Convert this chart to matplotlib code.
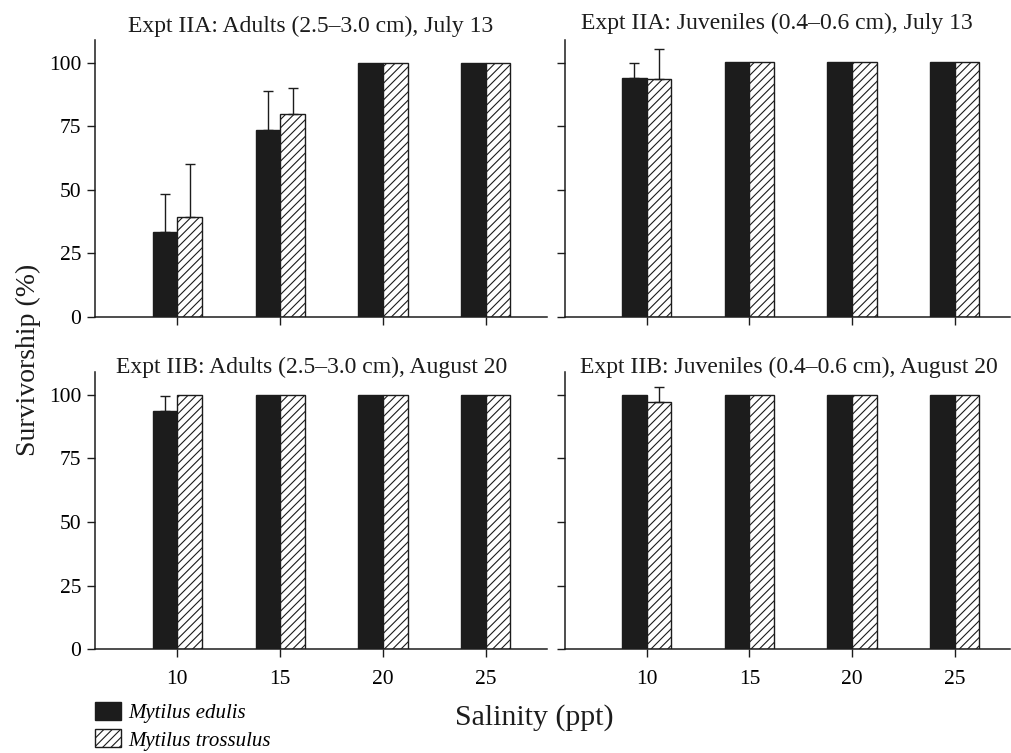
import numpy as np
import matplotlib
matplotlib.use('Agg')
import matplotlib.pyplot as plt
from matplotlib.patches import Patch

plt.rcParams['font.family'] = ['Liberation Serif', 'DejaVu Serif']
plt.rcParams['hatch.linewidth'] = 0.8

salinity = [10, 15, 20, 25]
yticks = [0, 25, 50, 75, 100]

# survivorship (%) and upper error (nan = no bar)
iia_adult_edulis = [33.5, 73.5, 100, 100]
iia_adult_edulis_err = [15, 15.5, np.nan, np.nan]
iia_adult_tross = [39.5, 80, 100, 100]
iia_adult_tross_err = [20.5, 10, np.nan, np.nan]

iia_juv_edulis = [94, 100.5, 100.5, 100.5]
iia_juv_edulis_err = [6, np.nan, np.nan, np.nan]
iia_juv_tross = [93.5, 100.5, 100.5, 100.5]
iia_juv_tross_err = [12, np.nan, np.nan, np.nan]

iib_adult_edulis = [93.5, 100, 100, 100]
iib_adult_edulis_err = [6, np.nan, np.nan, np.nan]
iib_adult_tross = [100, 100, 100, 100]
iib_adult_tross_err = [np.nan, np.nan, np.nan, np.nan]

iib_juv_edulis = [100, 100, 100, 100]
iib_juv_edulis_err = [np.nan, np.nan, np.nan, np.nan]
iib_juv_tross = [97, 100, 100, 100]
iib_juv_tross_err = [6, np.nan, np.nan, np.nan]

titles = ['Expt IIA: Adults (2.5\u20133.0 cm), July 13',
          'Expt IIA: Juveniles (0.4\u20130.6 cm), July 13',
          'Expt IIB: Adults (2.5\u20133.0 cm), August 20',
          'Expt IIB: Juveniles (0.4\u20130.6 cm), August 20']

panels = [
    (iia_adult_edulis, iia_adult_edulis_err, iia_adult_tross, iia_adult_tross_err),
    (iia_juv_edulis, iia_juv_edulis_err, iia_juv_tross, iia_juv_tross_err),
    (iib_adult_edulis, iib_adult_edulis_err, iib_adult_tross, iib_adult_tross_err),
    (iib_juv_edulis, iib_juv_edulis_err, iib_juv_tross, iib_juv_tross_err),
]

positions = [[0.094, 0.579, 0.447, 0.368],
             [0.558, 0.579, 0.44, 0.368],
             [0.094, 0.138, 0.447, 0.368],
             [0.558, 0.138, 0.44, 0.368]]
xlims = [(6, 28), (6, 27.7), (6, 28), (6, 27.7)]
title_x = [0.476, 0.476, 0.478, 0.503]
title_y = [1.01, 1.02, 0.98, 0.98]

ink = '#1c1c1c'
fig = plt.figure(figsize=(10.12, 7.53), dpi=100)
w = 1.2
x = np.array(salinity, dtype=float)

for i, (ed, ed_err, tr, tr_err) in enumerate(panels):
    ax = fig.add_axes(positions[i])
    ax.bar(x - w / 2, ed, width=w, color=ink, edgecolor=ink, linewidth=1)
    ax.bar(x + w / 2, tr, width=w, color='white', edgecolor=ink, linewidth=1, hatch='////')
    for xs, vals, errs in [(x - w / 2, ed, ed_err), (x + w / 2, tr, tr_err)]:
        errs = np.array(errs, dtype=float)
        m = np.isfinite(errs)
        if m.any():
            v = np.array(vals)[m]
            ax.errorbar(xs[m], v, yerr=[np.zeros(m.sum()), errs[m]], fmt='none',
                        ecolor=ink, elinewidth=1, capsize=3.5, capthick=1)
    ax.set_xlim(*xlims[i])
    ax.set_ylim(0, 109)
    ax.set_xticks(salinity)
    ax.set_yticks(yticks)
    for s in ['top', 'right']:
        ax.spines[s].set_visible(False)
    for s in ['left', 'bottom']:
        ax.spines[s].set_linewidth(1.1)
        ax.spines[s].set_color(ink)
    ax.tick_params(axis='x', direction='out', length=6, width=1, pad=9, labelsize=15.5, color=ink)
    ax.tick_params(axis='y', direction='out', length=6, width=1, pad=4, labelsize=15.5, color=ink)
    if i < 2:
        ax.set_xticklabels([])
    if i % 2 == 1:
        ax.set_yticklabels([])
    ax.text(title_x[i], title_y[i], titles[i], transform=ax.transAxes,
            ha='center', va='bottom', fontsize=17, color=ink)

fig.text(28 / 1012, 1 - 360 / 753, 'Survivorship (%)', rotation=90,
         ha='center', va='center', fontsize=20, color=ink)
fig.text(534 / 1012, 1 - 718 / 753, 'Salinity (ppt)',
         ha='center', va='center', fontsize=21.5, color=ink)

handles = [Patch(facecolor=ink, edgecolor=ink),
           Patch(facecolor='white', edgecolor=ink, hatch='////')]
fig.legend(handles, ['Mytilus edulis', 'Mytilus trossulus'], loc='upper left',
           bbox_to_anchor=(95 / 1012, 1 - 702 / 753), frameon=False,
           prop={'style': 'italic', 'size': 15}, handlelength=1.25, handleheight=0.95,
           handletextpad=0.35, labelspacing=0.3, borderpad=0, borderaxespad=0)

fig.savefig('out.png', dpi=100)
